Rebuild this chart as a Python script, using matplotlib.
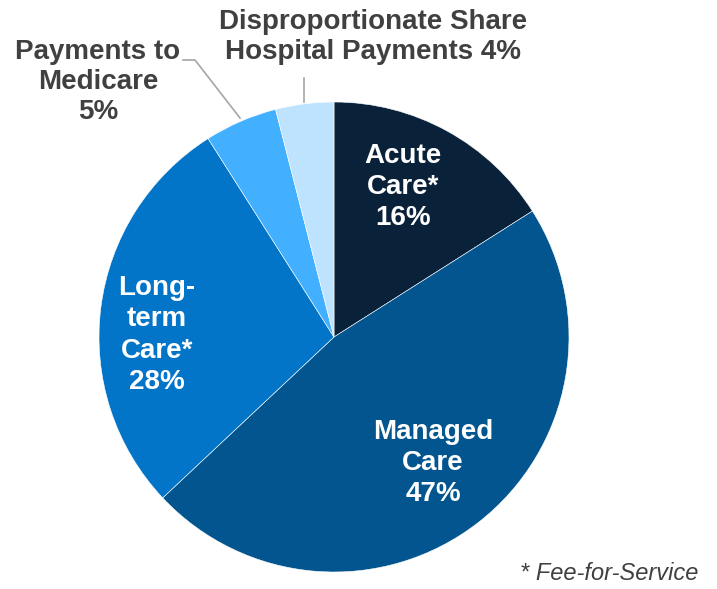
import matplotlib.pyplot as plt

# data
labels = ['Acute\nCare*\n16%', 'Managed\nCare\n47%', 'Long-\nterm\nCare*\n28%',
          'Payments to\nMedicare\n5%', 'Disproportionate Share\nHospital Payments 4%']
values = [16, 47, 28, 5, 4]
colors = ['#0A2239', '#03558F', '#0275C8', '#42B0FF', '#BEE3FF']

W, H = 717, 589
fig = plt.figure(figsize=(W/100, H/100), dpi=100)
ax = fig.add_axes([0, 0, 1, 1])

cx, cy, r = 334, H - 337, 235
ax.pie(values, colors=colors, startangle=90, counterclock=False,
       center=(cx, cy), radius=r, frame=True,
       wedgeprops=dict(edgecolor='white', linewidth=0.4))
ax.set_xlim(0, W)
ax.set_ylim(0, H)
ax.axis('off')

font = 'Liberation Sans'
# inside labels
inner = [(403, 187), (433, 463), (157, 335)]
for (x, y), lab in zip(inner, labels[:3]):
    ax.text(x, H - y, lab, ha='center', va='center', color='white',
            fontsize=20, fontweight='bold', family=font, linespacing=1.27)

# outside labels
grey = '#404040'
ax.text(98, H - 82, labels[3], ha='center', va='center', color=grey,
        fontsize=20, fontweight='bold', family=font, linespacing=1.22)
ax.text(373, H - 37, labels[4], ha='center', va='center', color=grey,
        fontsize=20, fontweight='bold', family=font, linespacing=1.22)

# leader lines
ax.plot([183, 195, 240], [H - 60, H - 60, H - 118], color='#A6A6A6', lw=1.2)
ax.plot([304, 304], [H - 78, H - 102], color='#A6A6A6', lw=1.2)

ax.text(698, H - 573, '* Fee-for-Service', ha='right', va='center',
        color=grey, fontsize=17, style='italic', family=font)

fig.savefig('out.png', dpi=100)
